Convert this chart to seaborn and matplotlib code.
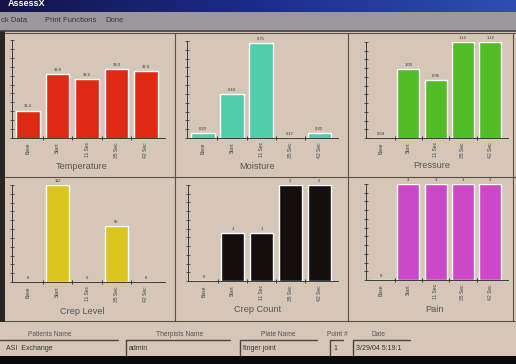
import numpy as np
import pandas as pd
import matplotlib.pyplot as plt
import seaborn as sns
from matplotlib.patches import Rectangle
from matplotlib.lines import Line2D
from matplotlib.colors import LinearSegmentedColormap

sns.set_style('white')
plt.rcParams['font.family'] = ['Liberation Sans', 'DejaVu Sans']

# data
times = ['Base', 'Start', '11 Sec', '35 Sec', '42 Sec']
temperature = [31.4, 32.8, 32.6, 33.0, 32.9]
moisture = [0.20, 0.44, 0.75, 0.17, 0.20]
pressure = [0.69, 1.00, 0.95, 1.12, 1.12]
crep_level = [0, 112, 0, 65, 0]
crep_count = [0, 1, 1, 2, 2]
pain = [0, 3, 3, 3, 3]

temp_lbl = ['31.4', '32.8', '32.6', '33.0', '32.9']
moist_lbl = ['0.20', '0.44', '0.75', '0.17', '0.20']
press_lbl = ['0.69', '1.00', '0.95', '1.12', '1.12']

W, H = 516, 364
BG = '#d6c6b8'
LINE = '#5a504a'

fig = plt.figure(figsize=(W / 100, H / 100), dpi=100)
fig.patch.set_facecolor(BG)


def px(x0, y0, x1, y1):
    return [x0 / W, 1 - y1 / H, (x1 - x0) / W, (y1 - y0) / H]


def rect(x0, y0, x1, y1, color):
    fig.add_artist(Rectangle((x0 / W, 1 - y1 / H), (x1 - x0) / W, (y1 - y0) / H,
                             transform=fig.transFigure, color=color, lw=0, zorder=0))


def hline(x0, x1, y, color=LINE, lw=0.8):
    fig.add_artist(Line2D([x0 / W, x1 / W], [1 - y / H, 1 - y / H], color=color, lw=lw,
                          transform=fig.transFigure))


def vline(x, y0, y1, color=LINE, lw=0.8):
    fig.add_artist(Line2D([x / W, x / W], [1 - y0 / H, 1 - y1 / H], color=color, lw=lw,
                          transform=fig.transFigure))


def text(x, y, s, **kw):
    fig.text(x / W, 1 - y / H, s, **kw)


# window chrome
tb = fig.add_axes(px(0, 0, W, 12))
grad = np.linspace(0, 1, 256).reshape(1, -1)
tb.imshow(grad, aspect='auto', cmap=LinearSegmentedColormap.from_list('t', ['#14144a', '#1c2c8c', '#2d4fb0']))
tb.axis('off')
text(8, 4, 'AssessX', color='white', fontsize=6.5, fontweight='bold', va='center')
rect(0, 12, W, 30, '#9a989c')
text(1, 20, 'ck Data', fontsize=5.5, color='#333333', va='center')
text(45, 20, 'Print Functions', fontsize=5.5, color='#333333', va='center')
text(105, 20, 'Done', fontsize=5.5, color='#333333', va='center')
hline(0, W, 30.5, color='#3a3a3a', lw=1.2)
rect(0, 31, 5, 322, '#2a2624')
rect(0, 356, W, H, '#0a0a0a')

# panel borders
hline(5, W, 33)
hline(5, W, 177)
hline(5, W, 321)
vline(175, 33, 321)
vline(348, 33, 321)
vline(513, 33, 321)


def panel(box, values, color, ylim, title, tpos, labels=None):
    ax = fig.add_axes(px(*box))
    df = pd.DataFrame({'time': times, 'value': values})
    sns.barplot(data=df, x='time', y='value', color=color, saturation=1, width=0.8, ax=ax)
    if labels is None:
        labels = [str(v) for v in values]
    ax.bar_label(ax.containers[0], labels=labels, fontsize=3, padding=1.5, color='#333333')
    ax.set_ylim(*ylim)
    ax.set_xlim(-0.55, 4.65)
    ax.patch.set_alpha(0)
    for s in ['top', 'right']:
        ax.spines[s].set_visible(False)
    for s in ['left', 'bottom']:
        ax.spines[s].set_color('#3c3c3c')
        ax.spines[s].set_linewidth(0.7)
    ax.set_yticks(np.linspace(ylim[0], ylim[1], 12))
    ax.tick_params(axis='y', left=True, direction='inout', length=3.5, width=0.6,
                   color='#3c3c3c', labelleft=False)
    ax.set_xticks(range(5))
    ax.set_xticklabels(times, rotation=90, fontsize=3.6, color='#444444')
    ax.set_xticks([0.5, 1.5, 2.5, 3.5], minor=True)
    ax.tick_params(axis='x', which='major', length=0, pad=3)
    ax.tick_params(axis='x', which='minor', bottom=True, direction='inout', length=3.5,
                   width=0.7, color='#3c3c3c')
    ax.set_xlabel('')
    ax.set_ylabel('')
    text(tpos[0], tpos[1], title, fontsize=6.6, color='#555555', ha='center', va='center')


panel((12, 40, 165, 138), temperature, '#de2a14', (30.35, 34.1), 'Temperature', (82, 167), temp_lbl)
panel((187, 41, 338, 138), moisture, '#50cdaa', (0.17, 0.762), 'Moisture', (257, 167), moist_lbl)
panel((366, 42, 508, 138), pressure, '#52bd26', (0.69, 1.12), 'Pressure', (432, 166), press_lbl)
panel((12, 185, 165, 282), crep_level, '#dcc51e', (0, 112), 'Crep Level', (82, 311))
panel((188, 185, 338, 281), crep_count, '#150e0e', (0, 2), 'Crep Count', (258, 309))
panel((366, 184, 508, 280), pain, '#cc48c8', (0, 3), 'Pain', (435, 309))

# bottom form
for x, s in [(50, 'Patients Name'), (180, 'Therpists Name'), (278, 'Plate Name'),
             (337, 'Point #'), (378, 'Date')]:
    text(x, 335, s, fontsize=4.8, color='#555555', ha='center', va='center')

hline(0, 118, 340, color='#4a4440', lw=1)
text(6, 349, 'ASI  Exchange', fontsize=5, color='#333333', va='center')
for x0, x1, s in [(126, 230, 'admin'), (240, 317, 'finger joint'),
                  (330, 343, '1'), (353, 410, '3/29/04 5:19:1')]:
    hline(x0, x1, 339.5, color='#4a4440', lw=1)
    vline(x0, 339.5, 355, color='#4a4440', lw=1)
    text(x0 + 3, 348, s, fontsize=5, color='#333333', va='center')

fig.savefig('out.png', dpi=100, facecolor=fig.get_facecolor())
